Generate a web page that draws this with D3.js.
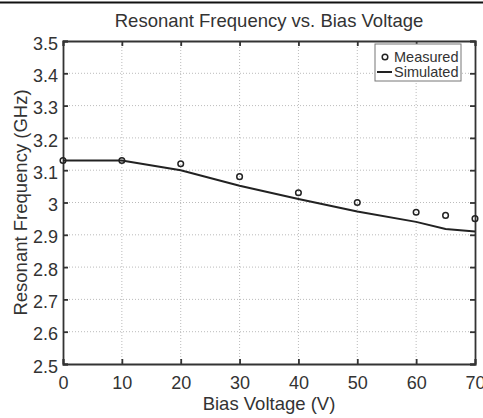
<!DOCTYPE html>
<html><head><meta charset="utf-8">
<script src="https://cdn.jsdelivr.net/npm/d3@7"></script>
<style>
body{margin:0;background:#fff;}
text{font-family:"Liberation Sans",Arial,sans-serif;fill:#333;}
</style></head>
<body><svg id="c" width="483" height="418"></svg>
<script>
const measuredV = [0,10,20,30,40,50,60,65,70];
const measuredF = [3.13,3.13,3.12,3.08,3.03,3.00,2.97,2.96,2.95];
const simV = [0,10,20,30,40,50,60,65,70];
const simF = [3.13,3.13,3.10,3.052,3.011,2.972,2.94,2.918,2.91];
const xTicks = [0,10,20,30,40,50,60,70];
const yTicks = [2.5,2.6,2.7,2.8,2.9,3,3.1,3.2,3.3,3.4,3.5];
const title = "Resonant Frequency vs. Bias Voltage";
const xLabel = "Bias Voltage (V)";
const yLabel = "Resonant Frequency (GHz)";
const legendLabels = ["Measured","Simulated"];

const svg = d3.select("#c");
const L=63,R=475,T=41,B=364;
const x = d3.scaleLinear().domain([0,70]).range([L,R]);
const y = d3.scaleLinear().domain([2.5,3.5]).range([B,T]);
const ink="#333";
const FONT="Liberation Sans, Arial, sans-serif";

// top border line
svg.append("line").attr("x1",0).attr("x2",483).attr("y1",2.5).attr("y2",2.5).attr("stroke","#111").attr("stroke-width",2);

// grid
const g = svg.append("g");
g.selectAll(".gx").data(xTicks.slice(1,-1)).join("line")
 .attr("x1",d=>x(d)).attr("x2",d=>x(d)).attr("y1",T).attr("y2",B)
 .attr("stroke","#aaa").attr("stroke-width",0.8).attr("stroke-dasharray","1,2");
g.selectAll(".gy").data(yTicks.slice(1,-1)).join("line")
 .attr("y1",d=>y(d)).attr("y2",d=>y(d)).attr("x1",L).attr("x2",R)
 .attr("stroke","#aaa").attr("stroke-width",0.8).attr("stroke-dasharray","1,2");

// axes with inward ticks
const axB = d3.axisBottom(x).tickValues(xTicks).tickSize(-5).tickPadding(12).tickFormat(d3.format("d"));
const axT = d3.axisTop(x).tickValues(xTicks).tickSize(-5).tickFormat("");
const axL = d3.axisLeft(y).tickValues(yTicks).tickSize(-5).tickPadding(5).tickFormat(d=>d3.format("")(+d.toFixed(1)));
const axR = d3.axisRight(y).tickValues(yTicks).tickSize(-5).tickFormat("");
function style(sel){sel.selectAll("path,line").attr("stroke",ink).attr("stroke-width",1.8);sel.select("path").attr("fill","none");sel.selectAll("text").attr("font-size",18).attr("fill",ink).attr("font-family",FONT);}
svg.append("g").attr("transform",`translate(0,${B})`).call(axB).call(style);
svg.append("g").attr("transform",`translate(0,${T})`).call(axT).call(style);
svg.append("g").attr("transform",`translate(${L},0)`).call(axL).call(style).selectAll("text").attr("dy","0.45em");
svg.append("g").attr("transform",`translate(${R},0)`).call(axR).call(style);

// simulated line
const line = d3.line().x(d=>x(d[0])).y(d=>y(d[1]));
svg.append("path").datum(simV.map((v,i)=>[v,simF[i]])).attr("d",line)
 .attr("fill","none").attr("stroke","#222").attr("stroke-width",2);

// measured points
svg.selectAll(".m").data(measuredV.map((v,i)=>[v,measuredF[i]])).join("circle")
 .attr("cx",d=>x(d[0])).attr("cy",d=>y(d[1])).attr("r",2.8)
 .attr("fill","none").attr("stroke","#222").attr("stroke-width",1.5);

// legend
const lg = svg.append("g");
lg.append("rect").attr("x",375).attr("y",44).attr("width",86).attr("height",37)
 .attr("fill","#fff").attr("stroke","#777").attr("stroke-width",1);
lg.append("circle").attr("cx",385).attr("cy",57).attr("r",2.8).attr("fill","none").attr("stroke","#222").attr("stroke-width",1.5);
lg.append("line").attr("x1",377).attr("x2",392).attr("y1",72).attr("y2",72).attr("stroke","#222").attr("stroke-width",2);
lg.selectAll("text").data(legendLabels).join("text")
 .attr("x",394).attr("y",(d,i)=>62+i*15).attr("font-size",14.5).text(d=>d);

// titles
svg.append("text").attr("x",x(35)).attr("y",27).attr("text-anchor","middle").attr("font-size",18.5).text(title);
svg.append("text").attr("x",x(35)).attr("y",410).attr("text-anchor","middle").attr("font-size",18.5).text(xLabel);
svg.append("text").attr("transform",`translate(27,${(T+B)/2}) rotate(-90)`).attr("text-anchor","middle").attr("font-size",18.5).text(yLabel);
</script></body></html>
